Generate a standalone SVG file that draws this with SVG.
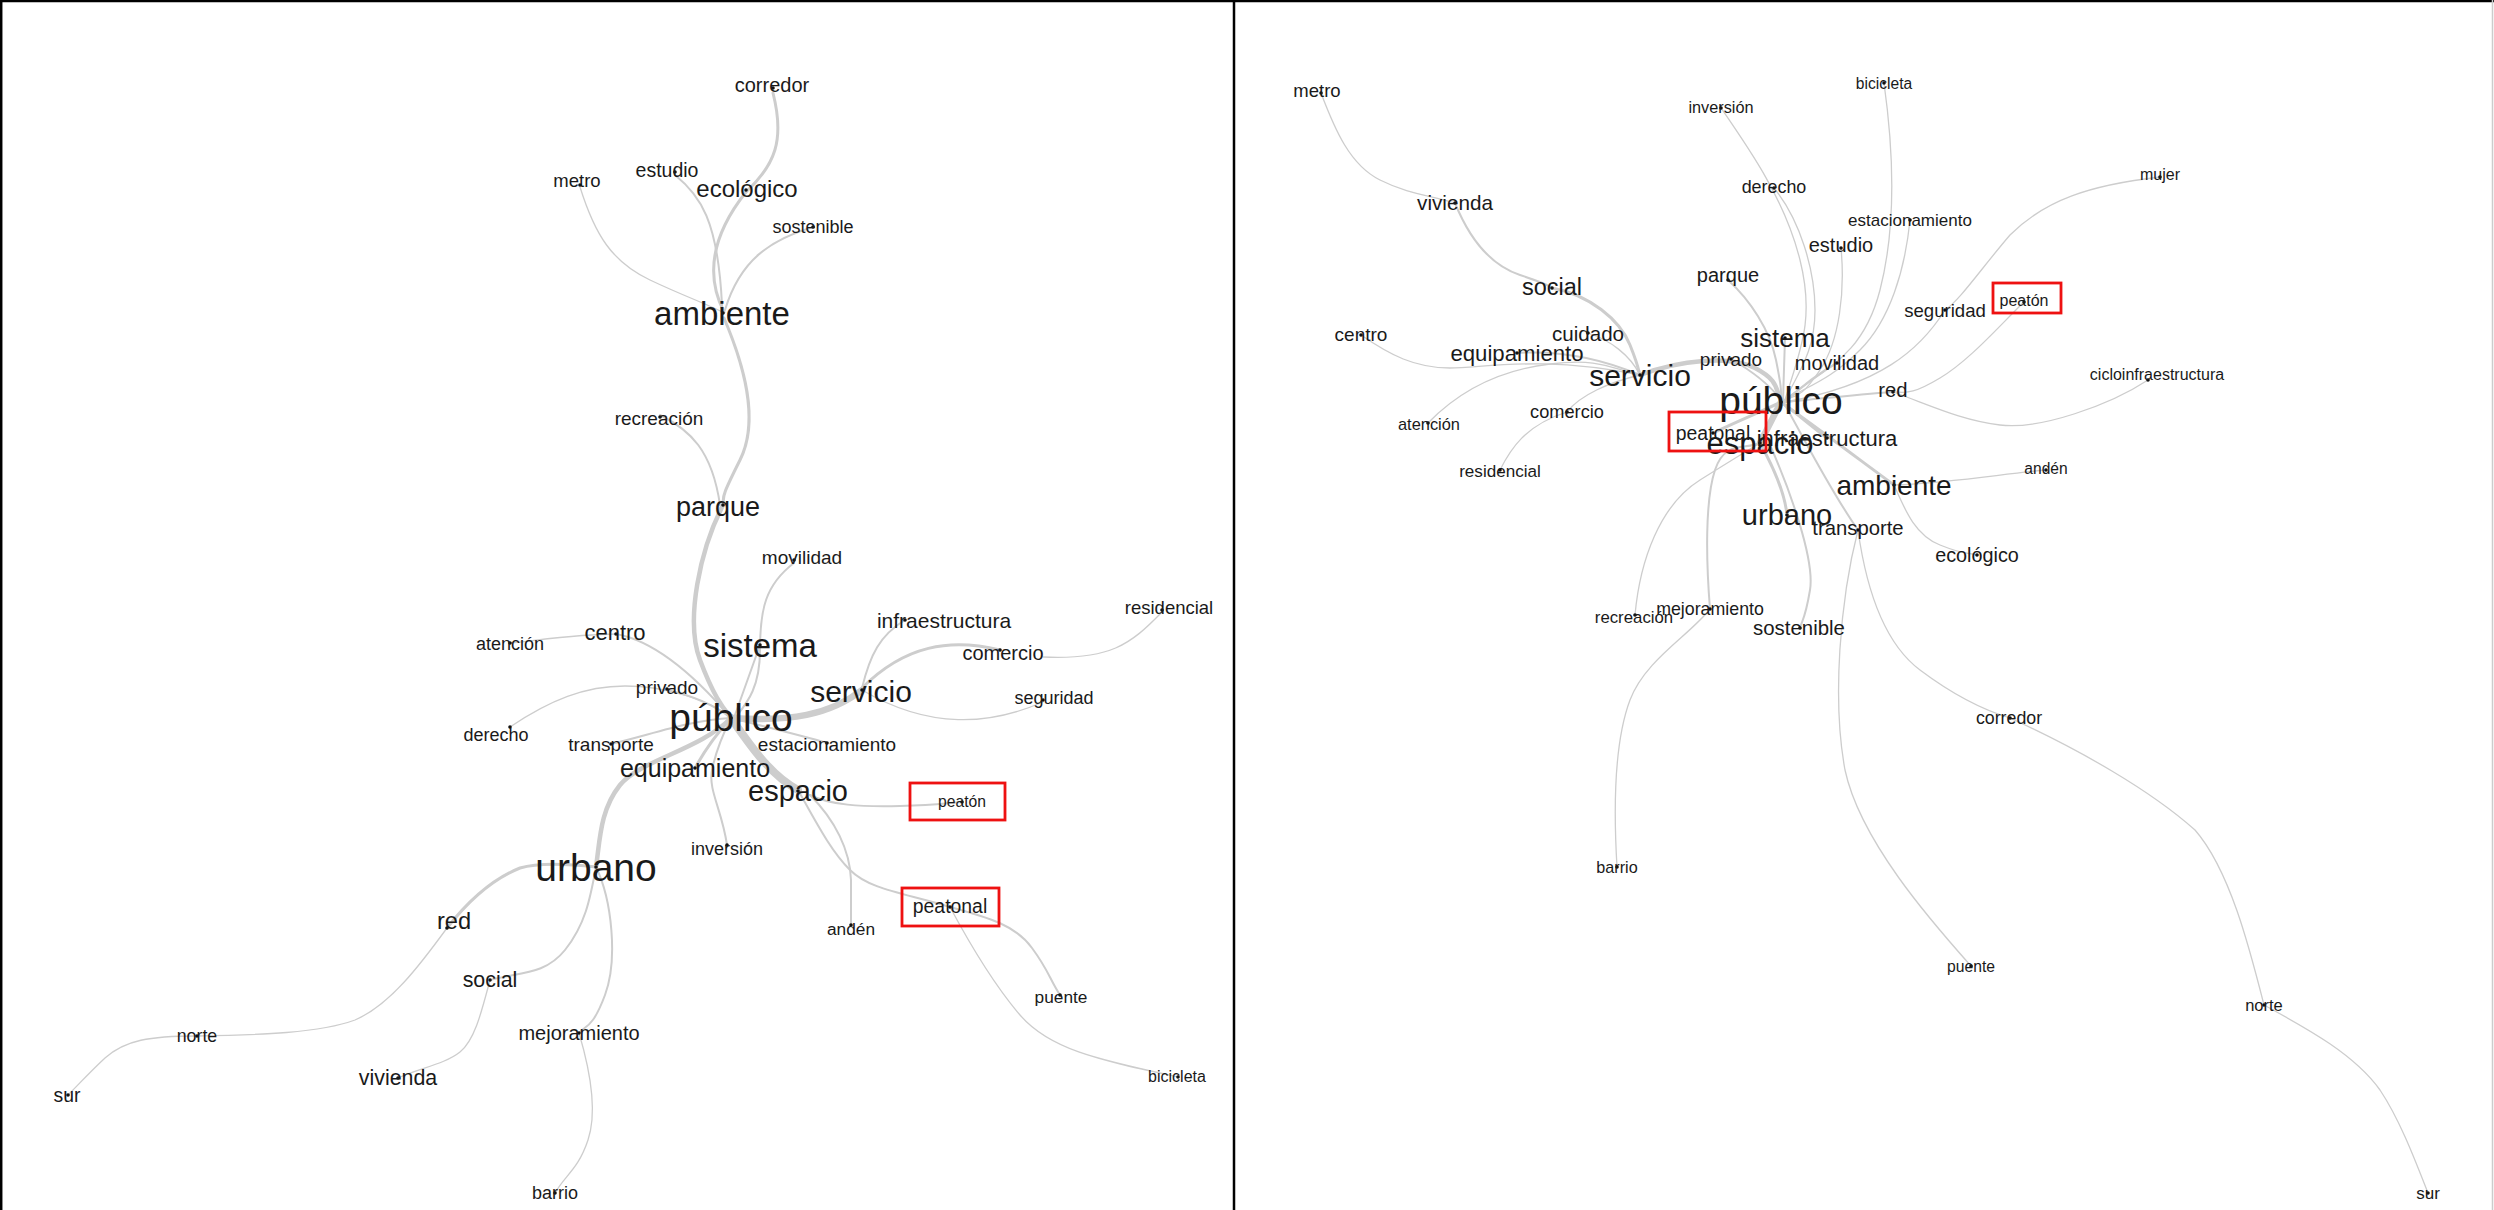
<svg xmlns="http://www.w3.org/2000/svg" width="2494" height="1210" viewBox="0 0 2494 1210">
<style>
.e{fill:none;stroke:#cdcdcd;stroke-linecap:round}
.w1{stroke-width:1.3}.w2{stroke-width:2}.w3{stroke-width:3}.w4{stroke-width:4.5}.w6{stroke-width:6.5}.w8{stroke-width:8}
.t{font-family:"Liberation Sans",Arial,sans-serif;fill:#1a1a1a;text-anchor:middle;dominant-baseline:central}
.d{fill:#111}
.box{fill:none;stroke:#ee1111;stroke-width:2.8}
</style>
<rect x="0" y="0" width="2494" height="1210" fill="#ffffff"/>
<g id="frame">
<line x1="0" y1="1" x2="2494" y2="1" stroke="#000" stroke-width="2.5"/>
<line x1="1.2" y1="0" x2="1.2" y2="1210" stroke="#000" stroke-width="2.5"/>
<line x1="1234" y1="0" x2="1234" y2="1210" stroke="#000" stroke-width="2.5"/>
<line x1="2492.5" y1="0" x2="2492.5" y2="1210" stroke="#cccccc" stroke-width="1.5"/>
</g>
<g id="connectors">
<!-- left panel -->
<path class="e w3" d="M773,93 C785,140 775,165 746,192"/>
<path class="e w3" d="M746,192 C712,235 705,275 724,312"/>
<path class="e w2" d="M675,175 C700,195 718,220 722,305"/>
<path class="e w2" d="M813,227 C770,240 740,260 725,310"/>
<path class="e w1" d="M580,187 C595,235 612,262 650,280 S710,305 722,312"/>
<path class="e w3" d="M724,318 C744,365 760,420 740,460 S724,495 723,505"/>
<path class="e w2" d="M660,415 C690,430 712,450 720,505"/>
<path class="e w4" d="M723,505 C700,550 685,620 700,660 S725,710 731,718"/>
<path class="e w2" d="M794,563 C765,585 760,610 760,650 S745,705 735,718"/>
<path class="e w2" d="M760,645 L735,715"/>
<path class="e w2" d="M905,620 C880,635 870,655 862,688"/>
<path class="e w3" d="M1000,650 C950,638 905,645 862,688"/>
<path class="e w1" d="M1162,612 C1130,645 1110,660 1043,657"/>
<path class="e w1" d="M1043,702 C990,725 930,730 862,690"/>
<path class="e w6" d="M862,690 C830,715 790,722 731,718"/>
<path class="e w2" d="M667,690 C690,695 715,705 731,718"/>
<path class="e w1" d="M510,643 C540,640 580,634 616,634"/>
<path class="e w2" d="M616,634 C650,640 690,670 731,718"/>
<path class="e w1" d="M510,727 C550,700 585,686 625,686 S710,700 731,718"/>
<path class="e w2" d="M611,744 C650,735 690,720 731,718"/>
<path class="e w3" d="M695,768 C705,750 720,730 731,718"/>
<path class="e w2" d="M727,845 C722,810 708,790 712,770 S725,730 731,718"/>
<path class="e w4" d="M731,718 C700,750 640,760 620,785 S600,840 596,867"/>
<path class="e w2" d="M731,718 C770,728 800,735 827,743"/>
<path class="e w8" d="M731,718 C750,745 770,775 798,790"/>
<path class="e w2" d="M810,795 C830,805 860,807 900,806 S945,803 962,802"/>
<path class="e w2" d="M798,790 C815,820 830,850 850,870 S905,893 950,907"/>
<path class="e w2" d="M810,795 C835,820 850,850 851,880 L851,925"/>
<path class="e w2" d="M950,907 C990,918 1015,925 1032,948 S1050,980 1060,995"/>
<path class="e w1" d="M950,907 C965,935 990,980 1020,1015 S1100,1060 1178,1077"/>
<path class="e w3" d="M596,867 C570,864 540,862 520,868 C490,880 465,905 447,928"/>
<path class="e w1" d="M447,928 C420,965 390,1005 355,1020 C320,1033 260,1035 197,1036"/>
<path class="e w1" d="M197,1036 C150,1036 125,1040 105,1058 C90,1072 78,1085 68,1095"/>
<path class="e w2" d="M596,867 C590,900 585,925 565,950 S520,972 490,980"/>
<path class="e w1" d="M490,980 C482,1010 475,1040 460,1052 S420,1068 398,1078"/>
<path class="e w2" d="M596,867 C612,900 618,960 605,995 S585,1025 579,1033"/>
<path class="e w1" d="M579,1033 C590,1070 598,1110 588,1140 S565,1175 555,1193"/>
<!-- right panel -->
<path class="e w1" d="M1321,93 C1335,130 1350,165 1380,180 S1430,195 1455,203"/>
<path class="e w2" d="M1455,203 C1470,240 1490,265 1520,275 S1545,284 1552,288"/>
<path class="e w3" d="M1552,288 C1590,295 1620,320 1630,345 S1638,370 1640,375"/>
<path class="e w1" d="M1588,333 C1610,340 1630,355 1640,375"/>
<path class="e w1" d="M1361,335 C1390,355 1415,368 1450,368 S1540,355 1640,375"/>
<path class="e w2" d="M1517,353 C1560,350 1600,358 1640,375"/>
<path class="e w1" d="M1428,423 C1460,390 1500,370 1550,364 S1610,368 1640,375"/>
<path class="e w1" d="M1567,412 C1580,395 1610,382 1640,375"/>
<path class="e w1" d="M1500,470 C1510,450 1525,425 1567,412"/>
<path class="e w4" d="M1640,375 C1680,360 1730,355 1755,368 S1775,390 1781,400"/>
<path class="e w2" d="M1728,280 C1750,300 1770,330 1776,360 S1781,390 1781,400"/>
<path class="e w1" d="M1721,108 C1750,150 1785,200 1800,260 S1800,350 1785,400"/>
<path class="e w1" d="M1774,188 C1800,220 1815,270 1815,310 S1800,370 1785,400"/>
<path class="e w1" d="M1884,83 C1892,140 1898,220 1880,290 S1820,370 1785,400"/>
<path class="e w1" d="M1910,220 C1905,270 1890,320 1860,350 S1810,385 1785,400"/>
<path class="e w1" d="M1841,248 C1845,290 1840,340 1820,370 S1795,395 1785,400"/>
<path class="e w2" d="M1785,338 L1783,400"/>
<path class="e w2" d="M1837,363 C1815,375 1800,388 1785,402"/>
<path class="e w2" d="M1731,359 C1750,370 1770,385 1781,400"/>
<path class="e w1" d="M2160,177 C2090,185 2045,200 2010,235 C1980,270 1960,300 1945,310"/>
<path class="e w1" d="M1945,310 C1920,350 1880,385 1785,402"/>
<path class="e w1" d="M2024,302 C2000,325 1970,360 1940,378 S1905,392 1893,392"/>
<path class="e w2" d="M1893,392 C1850,395 1810,400 1785,402"/>
<path class="e w1" d="M1893,392 C1930,405 1960,420 2000,425 S2110,405 2148,380"/>
<path class="e w1" d="M2046,470 C2000,474 1960,482 1894,485"/>
<path class="e w3" d="M1894,485 C1860,460 1820,430 1785,405"/>
<path class="e w1" d="M1894,485 C1905,510 1915,535 1940,545 S1965,552 1977,555"/>
<path class="e w1" d="M1858,530 C1865,580 1880,640 1920,670 S1990,712 2010,718"/>
<path class="e w1" d="M2010,718 C2080,750 2150,790 2195,830 C2230,870 2250,950 2264,1005"/>
<path class="e w1" d="M2264,1005 C2310,1030 2355,1055 2380,1090 C2400,1120 2415,1160 2428,1193"/>
<path class="e w1" d="M1858,530 C1840,600 1832,700 1845,770 C1860,840 1930,920 1971,966"/>
<path class="e w2" d="M1858,530 C1830,490 1805,440 1785,405"/>
<path class="e w2" d="M1770,445 C1790,490 1815,560 1810,590 S1802,620 1800,628"/>
<path class="e w2" d="M1710,609 C1706,560 1705,500 1715,470 S1745,450 1760,443"/>
<path class="e w1" d="M1635,615 C1640,560 1660,505 1700,480 S1745,452 1760,443"/>
<path class="e w1" d="M1617,867 C1613,800 1615,740 1630,700 S1690,635 1710,609"/>
<path class="e w3" d="M1760,443 C1775,470 1785,495 1787,515"/>
<path class="e w6" d="M1781,402 L1760,443"/>
<path class="e w3" d="M1713,433 C1740,420 1765,410 1781,402"/>
<path class="e w3" d="M1827,438 C1810,425 1795,412 1781,402"/>
</g>
<g id="left-nodes">
<g id="L-corredor"><circle class="d" cx="773" cy="88" r="1.8"/><text class="t" x="772" y="85" font-size="20">corredor</text></g>
<g id="L-estudio"><circle class="d" cx="675" cy="172" r="1.8"/><text class="t" x="667" y="170" font-size="19.5">estudio</text></g>
<g id="L-ecologico"><circle class="d" cx="746" cy="190" r="1.8"/><text class="t" x="747" y="188" font-size="24">ecológico</text></g>
<g id="L-sostenible"><circle class="d" cx="813" cy="227" r="1.8"/><text class="t" x="813" y="227" font-size="18">sostenible</text></g>
<g id="L-ambiente"><circle class="d" cx="723" cy="313" r="1.8"/><text class="t" x="722" y="313" font-size="33">ambiente</text></g>
<g id="L-metro"><circle class="d" cx="580" cy="185" r="1.8"/><text class="t" x="577" y="180" font-size="18.5">metro</text></g>
<g id="L-recreacion"><circle class="d" cx="660" cy="417" r="1.8"/><text class="t" x="659" y="418" font-size="19">recreación</text></g>
<g id="L-parque"><circle class="d" cx="723" cy="505" r="1.8"/><text class="t" x="718" y="507" font-size="27">parque</text></g>
<g id="L-movilidad"><circle class="d" cx="794" cy="560" r="1.8"/><text class="t" x="802" y="557" font-size="19">movilidad</text></g>
<g id="L-infraestructura"><circle class="d" cx="905" cy="620" r="1.8"/><text class="t" x="944" y="620" font-size="21">infraestructura</text></g>
<g id="L-residencial"><circle class="d" cx="1162" cy="610" r="1.8"/><text class="t" x="1169" y="607" font-size="18.5">residencial</text></g>
<g id="L-sistema"><circle class="d" cx="760" cy="645" r="1.8"/><text class="t" x="760" y="645" font-size="33">sistema</text></g>
<g id="L-comercio"><circle class="d" cx="1000" cy="650" r="1.8"/><text class="t" x="1003" y="653" font-size="20">comercio</text></g>
<g id="L-servicio"><circle class="d" cx="862" cy="690" r="1.8"/><text class="t" x="861" y="691" font-size="30">servicio</text></g>
<g id="L-seguridad"><circle class="d" cx="1043" cy="700" r="1.8"/><text class="t" x="1054" y="698" font-size="18">seguridad</text></g>
<g id="L-privado"><circle class="d" cx="667" cy="689" r="1.8"/><text class="t" x="667" y="687" font-size="19">privado</text></g>
<g id="L-publico"><circle class="d" cx="731" cy="718" r="1.8"/><text class="t" x="731" y="717" font-size="39">público</text></g>
<g id="L-estacionamiento"><circle class="d" cx="827" cy="743" r="1.8"/><text class="t" x="827" y="744" font-size="19">estacionamiento</text></g>
<g id="L-equipamiento"><circle class="d" cx="695" cy="768" r="1.8"/><text class="t" x="695" y="768" font-size="25">equipamiento</text></g>
<g id="L-espacio"><circle class="d" cx="798" cy="791" r="1.8"/><text class="t" x="798" y="791" font-size="29">espacio</text></g>
<g id="L-peaton"><circle class="d" cx="962" cy="802" r="1.8"/><text class="t" x="962" y="801" font-size="15.7">peatón</text><rect class="box" x="910" y="783" width="95" height="37"/></g>
<g id="L-transporte"><circle class="d" cx="611" cy="744" r="1.8"/><text class="t" x="611" y="744" font-size="19">transporte</text></g>
<g id="L-atencion"><circle class="d" cx="510" cy="643" r="1.8"/><text class="t" x="510" y="644" font-size="18">atención</text></g>
<g id="L-centro"><circle class="d" cx="616" cy="634" r="1.8"/><text class="t" x="615" y="632" font-size="22">centro</text></g>
<g id="L-derecho"><circle class="d" cx="510" cy="727" r="1.8"/><text class="t" x="496" y="735" font-size="18">derecho</text></g>
<g id="L-urbano"><circle class="d" cx="596" cy="867" r="1.8"/><text class="t" x="596" y="867" font-size="39">urbano</text></g>
<g id="L-inversion"><circle class="d" cx="727" cy="845" r="1.8"/><text class="t" x="727" y="849" font-size="18">inversión</text></g>
<g id="L-peatonal"><circle class="d" cx="950" cy="907" r="1.8"/><text class="t" x="950" y="906" font-size="19.4">peatonal</text><rect class="box" x="902" y="888" width="97" height="38"/></g>
<g id="L-anden"><circle class="d" cx="851" cy="925" r="1.8"/><text class="t" x="851" y="929" font-size="17.3">andén</text></g>
<g id="L-puente"><circle class="d" cx="1060" cy="995" r="1.8"/><text class="t" x="1061" y="997" font-size="17.3">puente</text></g>
<g id="L-bicicleta"><circle class="d" cx="1178" cy="1077" r="1.8"/><text class="t" x="1177" y="1076" font-size="16">bicicleta</text></g>
<g id="L-red"><circle class="d" cx="447" cy="928" r="1.8"/><text class="t" x="454" y="921" font-size="23.7">red</text></g>
<g id="L-social"><circle class="d" cx="490" cy="980" r="1.8"/><text class="t" x="490" y="980" font-size="21.4">social</text></g>
<g id="L-norte"><circle class="d" cx="197" cy="1036" r="1.8"/><text class="t" x="197" y="1036" font-size="17.8">norte</text></g>
<g id="L-sur"><circle class="d" cx="68" cy="1095" r="1.8"/><text class="t" x="67" y="1095" font-size="19.4">sur</text></g>
<g id="L-vivienda"><circle class="d" cx="398" cy="1078" r="1.8"/><text class="t" x="398" y="1078" font-size="21.4">vivienda</text></g>
<g id="L-mejoramiento"><circle class="d" cx="579" cy="1033" r="1.8"/><text class="t" x="579" y="1033" font-size="20">mejoramiento</text></g>
<g id="L-barrio"><circle class="d" cx="555" cy="1193" r="1.8"/><text class="t" x="555" y="1193" font-size="18">barrio</text></g>
</g>
<g id="right-nodes">
<g id="R-metro"><circle class="d" cx="1321" cy="93" r="1.8"/><text class="t" x="1317" y="90" font-size="18.5">metro</text></g>
<g id="R-inversion"><circle class="d" cx="1721" cy="108" r="1.8"/><text class="t" x="1721" y="107" font-size="16.3">inversión</text></g>
<g id="R-bicicleta"><circle class="d" cx="1884" cy="83" r="1.8"/><text class="t" x="1884" y="83" font-size="15.6">bicicleta</text></g>
<g id="R-vivienda"><circle class="d" cx="1455" cy="203" r="1.8"/><text class="t" x="1455" y="202" font-size="20.7">vivienda</text></g>
<g id="R-derecho"><circle class="d" cx="1774" cy="188" r="1.8"/><text class="t" x="1774" y="187" font-size="17.9">derecho</text></g>
<g id="R-mujer"><circle class="d" cx="2160" cy="177" r="1.8"/><text class="t" x="2160" y="174" font-size="16">mujer</text></g>
<g id="R-estacionamiento"><circle class="d" cx="1910" cy="220" r="1.8"/><text class="t" x="1910" y="220" font-size="17">estacionamiento</text></g>
<g id="R-estudio"><circle class="d" cx="1841" cy="248" r="1.8"/><text class="t" x="1841" y="245" font-size="20">estudio</text></g>
<g id="R-social"><circle class="d" cx="1552" cy="288" r="1.8"/><text class="t" x="1552" y="287" font-size="23.5">social</text></g>
<g id="R-parque"><circle class="d" cx="1728" cy="280" r="1.8"/><text class="t" x="1728" y="275" font-size="20">parque</text></g>
<g id="R-seguridad"><circle class="d" cx="1945" cy="310" r="1.8"/><text class="t" x="1945" y="310" font-size="18.6">seguridad</text></g>
<g id="R-peaton"><circle class="d" cx="2024" cy="302" r="1.8"/><text class="t" x="2024" y="300" font-size="16">peatón</text><rect class="box" x="1993" y="283" width="68" height="30"/></g>
<g id="R-centro"><circle class="d" cx="1361" cy="335" r="1.8"/><text class="t" x="1361" y="334" font-size="19">centro</text></g>
<g id="R-cuidado"><circle class="d" cx="1588" cy="333" r="1.8"/><text class="t" x="1588" y="333" font-size="20.6">cuidado</text></g>
<g id="R-sistema"><circle class="d" cx="1785" cy="338" r="1.8"/><text class="t" x="1785" y="338" font-size="26">sistema</text></g>
<g id="R-equipamiento"><circle class="d" cx="1517" cy="353" r="1.8"/><text class="t" x="1517" y="353" font-size="22.2">equipamiento</text></g>
<g id="R-privado"><circle class="d" cx="1731" cy="359" r="1.8"/><text class="t" x="1731" y="359" font-size="19">privado</text></g>
<g id="R-movilidad"><circle class="d" cx="1837" cy="363" r="1.8"/><text class="t" x="1837" y="363" font-size="20">movilidad</text></g>
<g id="R-servicio"><circle class="d" cx="1640" cy="375" r="1.8"/><text class="t" x="1640" y="375" font-size="30">servicio</text></g>
<g id="R-cicloinfraestructura"><circle class="d" cx="2148" cy="380" r="1.8"/><text class="t" x="2157" y="374" font-size="16">cicloinfraestructura</text></g>
<g id="R-red"><circle class="d" cx="1893" cy="392" r="1.8"/><text class="t" x="1893" y="390" font-size="20.3">red</text></g>
<g id="R-publico"><circle class="d" cx="1781" cy="402" r="1.8"/><text class="t" x="1781" y="400" font-size="39">público</text></g>
<g id="R-comercio"><circle class="d" cx="1567" cy="412" r="1.8"/><text class="t" x="1567" y="412" font-size="18.2">comercio</text></g>
<g id="R-atencion"><circle class="d" cx="1428" cy="423" r="1.8"/><text class="t" x="1429" y="424" font-size="16.4">atención</text></g>
<g id="R-espacio"><circle class="d" cx="1760" cy="443" r="1.8"/><text class="t" x="1760" y="443" font-size="31">espacio</text></g>
<g id="R-infraestructura"><circle class="d" cx="1827" cy="438" r="1.8"/><text class="t" x="1827" y="438" font-size="22">infraestructura</text></g>
<g id="R-peatonal"><circle class="d" cx="1713" cy="433" r="1.8"/><text class="t" x="1713" y="433" font-size="19.4">peatonal</text><rect class="box" x="1669" y="412" width="97" height="39"/></g>
<g id="R-anden"><circle class="d" cx="2046" cy="470" r="1.8"/><text class="t" x="2046" y="468" font-size="15.6">andén</text></g>
<g id="R-residencial"><circle class="d" cx="1500" cy="470" r="1.8"/><text class="t" x="1500" y="471" font-size="17.1">residencial</text></g>
<g id="R-ambiente"><circle class="d" cx="1894" cy="485" r="1.8"/><text class="t" x="1894" y="485" font-size="28">ambiente</text></g>
<g id="R-urbano"><circle class="d" cx="1787" cy="515" r="1.8"/><text class="t" x="1787" y="515" font-size="29">urbano</text></g>
<g id="R-transporte"><circle class="d" cx="1858" cy="530" r="1.8"/><text class="t" x="1858" y="528" font-size="20.3">transporte</text></g>
<g id="R-ecologico"><circle class="d" cx="1977" cy="555" r="1.8"/><text class="t" x="1977" y="555" font-size="19.8">ecológico</text></g>
<g id="R-mejoramiento"><circle class="d" cx="1710" cy="609" r="1.8"/><text class="t" x="1710" y="609" font-size="17.8">mejoramiento</text></g>
<g id="R-recreacion"><circle class="d" cx="1635" cy="615" r="1.8"/><text class="t" x="1634" y="617" font-size="16.8">recreación</text></g>
<g id="R-sostenible"><circle class="d" cx="1800" cy="628" r="1.8"/><text class="t" x="1799" y="628" font-size="20.4">sostenible</text></g>
<g id="R-corredor"><circle class="d" cx="2010" cy="718" r="1.8"/><text class="t" x="2009" y="718" font-size="17.8">corredor</text></g>
<g id="R-barrio"><circle class="d" cx="1617" cy="867" r="1.8"/><text class="t" x="1617" y="867" font-size="16.2">barrio</text></g>
<g id="R-puente"><circle class="d" cx="1971" cy="966" r="1.8"/><text class="t" x="1971" y="966" font-size="15.7">puente</text></g>
<g id="R-norte"><circle class="d" cx="2264" cy="1005" r="1.8"/><text class="t" x="2264" y="1005" font-size="16.5">norte</text></g>
<g id="R-sur"><circle class="d" cx="2428" cy="1193" r="1.8"/><text class="t" x="2428" y="1193" font-size="17">sur</text></g>
</g>
</svg>
